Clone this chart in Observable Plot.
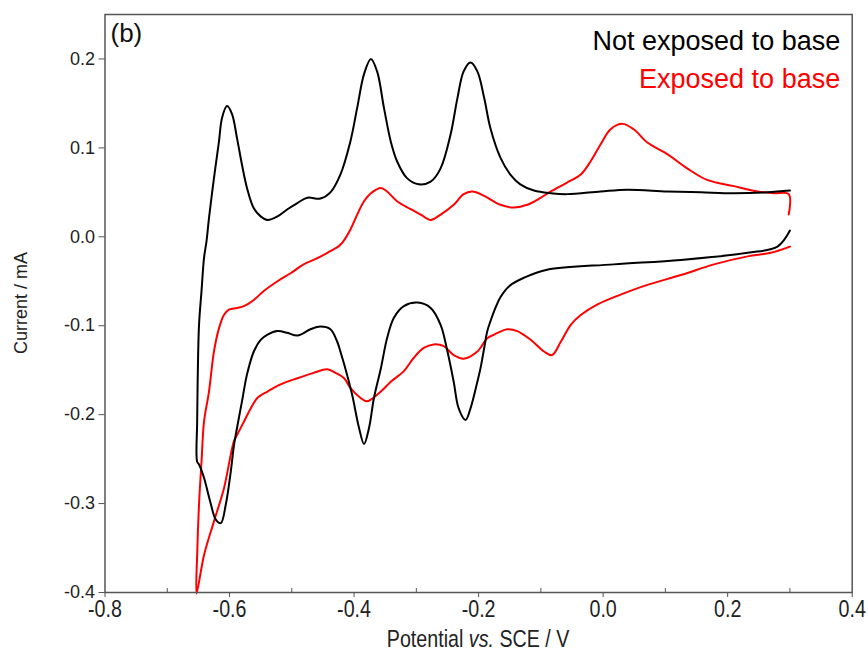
<!DOCTYPE html>
<html><head><meta charset="utf-8">
<script src="https://cdn.jsdelivr.net/npm/d3@7"></script>
<script src="https://cdn.jsdelivr.net/npm/@observablehq/plot@0.6"></script>
<style>body{margin:0;background:#fff;}</style>
</head><body><div id="chart"></div>
<script>
// Not exposed to base (black): cathodic sweep from 0.3 V, then anodic sweep back to 0.3 V
const blackX = [0.300,0.280,0.232,0.125,0.017,-0.090,-0.127,-0.150,-0.165,-0.173,-0.181,-0.186,-0.191,-0.197,-0.202,-0.213,-0.221,-0.232,-0.240,-0.250,-0.261,-0.277,-0.298,-0.320,-0.336,-0.347,-0.357,-0.368,-0.376,-0.384,-0.392,-0.403,-0.414,-0.422,-0.427,-0.438,-0.454,-0.470,-0.491,-0.507,-0.523,-0.539,-0.550,-0.561,-0.572,-0.580,-0.588,-0.593,-0.598,-0.606,-0.614,-0.622,-0.631,-0.641,-0.649,-0.652,
  -0.652,-0.651,-0.649,-0.645,-0.641,-0.637,-0.633,-0.625,-0.617,-0.612,-0.604,-0.596,-0.588,-0.580,-0.572,-0.561,-0.550,-0.539,-0.523,-0.507,-0.491,-0.475,-0.454,-0.438,-0.422,-0.406,-0.395,-0.384,-0.373,-0.363,-0.352,-0.341,-0.331,-0.315,-0.296,-0.277,-0.261,-0.245,-0.234,-0.224,-0.213,-0.202,-0.191,-0.181,-0.165,-0.149,-0.133,-0.111,-0.084,-0.058,-0.004,0.039,0.103,0.157,0.210,0.264,0.300];
const blackY = [0.007,-0.011,-0.018,-0.026,-0.031,-0.037,-0.046,-0.055,-0.068,-0.080,-0.095,-0.106,-0.125,-0.148,-0.163,-0.193,-0.206,-0.193,-0.163,-0.129,-0.099,-0.080,-0.074,-0.078,-0.091,-0.114,-0.148,-0.181,-0.215,-0.233,-0.215,-0.178,-0.148,-0.129,-0.118,-0.104,-0.101,-0.104,-0.111,-0.108,-0.106,-0.110,-0.116,-0.129,-0.155,-0.185,-0.215,-0.235,-0.264,-0.301,-0.322,-0.318,-0.298,-0.271,-0.256,-0.253,
  -0.208,-0.155,-0.099,-0.061,-0.024,-0.005,0.021,0.066,0.107,0.134,0.147,0.138,0.111,0.081,0.055,0.032,0.023,0.019,0.023,0.031,0.038,0.044,0.043,0.050,0.070,0.107,0.145,0.183,0.200,0.186,0.145,0.107,0.085,0.066,0.059,0.062,0.077,0.115,0.156,0.186,0.196,0.186,0.156,0.122,0.089,0.070,0.059,0.052,0.049,0.048,0.051,0.053,0.051,0.050,0.049,0.050,0.052];
// Exposed to base (red)
const redX = [0.300,0.269,0.232,0.178,0.125,0.071,0.028,-0.009,-0.036,-0.052,-0.068,-0.082,-0.095,-0.116,-0.138,-0.154,-0.175,-0.186,-0.202,-0.224,-0.240,-0.256,-0.272,-0.288,-0.304,-0.320,-0.341,-0.357,-0.379,-0.390,-0.406,-0.416,-0.430,-0.443,-0.465,-0.491,-0.518,-0.539,-0.555,-0.566,-0.577,-0.588,-0.593,-0.609,-0.625,-0.641,-0.653,
  -0.652,-0.649,-0.645,-0.641,-0.633,-0.625,-0.617,-0.609,-0.601,-0.588,-0.577,-0.561,-0.545,-0.523,-0.502,-0.481,-0.459,-0.443,-0.422,-0.406,-0.395,-0.384,-0.373,-0.357,-0.347,-0.331,-0.309,-0.293,-0.277,-0.261,-0.240,-0.224,-0.210,-0.191,-0.165,-0.143,-0.122,-0.100,-0.084,-0.058,-0.036,-0.020,-0.004,0.012,0.031,0.049,0.071,0.103,0.135,0.167,0.210,0.248,0.274,0.298,0.298];
const redY = [-0.011,-0.018,-0.022,-0.031,-0.043,-0.054,-0.065,-0.076,-0.088,-0.099,-0.118,-0.133,-0.129,-0.116,-0.106,-0.104,-0.110,-0.114,-0.129,-0.137,-0.133,-0.123,-0.121,-0.125,-0.136,-0.151,-0.163,-0.174,-0.185,-0.181,-0.170,-0.159,-0.153,-0.149,-0.153,-0.159,-0.166,-0.174,-0.181,-0.193,-0.208,-0.223,-0.230,-0.283,-0.320,-0.358,-0.401,
  -0.358,-0.301,-0.253,-0.208,-0.174,-0.129,-0.103,-0.088,-0.082,-0.080,-0.078,-0.071,-0.061,-0.050,-0.041,-0.031,-0.024,-0.018,-0.009,0.008,0.025,0.040,0.049,0.055,0.051,0.040,0.031,0.025,0.019,0.025,0.036,0.048,0.051,0.046,0.036,0.033,0.036,0.044,0.051,0.061,0.070,0.085,0.104,0.121,0.127,0.121,0.106,0.093,0.077,0.064,0.057,0.051,0.049,0.048,0.025];

const xTicks = [-0.8,-0.6,-0.4,-0.2,0.0,0.2,0.4];
const xMinorTicks = [-0.7,-0.5,-0.3,-0.1,0.1,0.3];
const yTicks = [-0.4,-0.3,-0.2,-0.1,0.0,0.1,0.2];
const seriesNames = ["Not exposed to base","Exposed to base"];
const seriesColors = ["#000000","#ff0000"];
const panelLabel = "(b)";
const xLabelParts = ["Potential ","vs."," SCE / V"];
const yLabel = "Current / mA";

const black = blackX.map((x,i)=>({x, y: blackY[i]}));
const red = redX.map((x,i)=>({x, y: redY[i]}));

const sans = "'Liberation Sans', Arial, sans-serif";

const plot = Plot.plot({
  width: 868, height: 654,
  marginLeft: 104.5, marginRight: 16.3, marginTop: 14, marginBottom: 62,
  style: {fontFamily: sans, background: "#fff", overflow: "visible"},
  x: {domain: [-0.8, 0.4]},
  y: {domain: [-0.4, 0.25]},
  marks: [
    Plot.line(red, {x:"x", y:"y", stroke: seriesColors[1], strokeWidth: 2, curve: "catmull-rom"}),
    Plot.line(black, {x:"x", y:"y", stroke: seriesColors[0], strokeWidth: 2, curve: "catmull-rom"}),
    Plot.frame({stroke:"#555", strokeWidth: 1.5}),
    Plot.axisY(yTicks, {tickSize: 6, tickPadding: 4, tickFormat: d => d.toFixed(1), fontSize: 18, label: null, stroke: "#555", fill: "#222"}),
    Plot.axisX(xTicks, {tickSize: 5, tickPadding: 2, tickFormat: d => d.toFixed(1), fontSize: 24, label: null, stroke: "#555", fill: "#222"}),
    Plot.axisX(xMinorTicks, {tickSize: -4, text: null, label: null, stroke: "#555"}),
    Plot.text([panelLabel], {frameAnchor: "top-left", textAnchor: "start", lineAnchor: "top", dx: 5.5, dy: 9, fontSize: 26, fill: "#111"}),
    Plot.text([seriesNames[0]], {frameAnchor: "top-right", textAnchor: "end", lineAnchor: "top", dx: -12, dy: 16, fontSize: 27, fill: seriesColors[0]}),
    Plot.text([seriesNames[1]], {frameAnchor: "top-right", textAnchor: "end", lineAnchor: "top", dx: -12, dy: 54, fontSize: 27, fill: seriesColors[1]})
  ]
});

document.getElementById("chart").appendChild(plot);

const svg = d3.select(plot);
const xs = plot.scale("x");
const ys = plot.scale("y");
const xMid = (xs.range[0] + xs.range[1]) / 2;
const yMid = (ys.range[0] + ys.range[1]) / 2;

// condensed look of the bottom-axis tick labels, as in the reference
svg.selectAll('g[aria-label="x-axis tick label"] text').each(function() {
  const t = this.getAttribute("transform") || "";
  this.setAttribute("transform", t + " scale(0.82,1)");
});

const xl = svg.append("text")
  .attr("transform", `translate(${xMid},647) scale(0.82,1)`)
  .attr("text-anchor", "middle")
  .attr("font-family", sans).attr("font-size", 24).attr("fill", "#222");
xLabelParts.forEach((t, i) => {
  const ts = xl.append("tspan").text(t);
  if (i === 1) ts.attr("font-style", "italic");
});

svg.append("text")
  .attr("transform", `translate(27,${yMid}) rotate(-90)`)
  .attr("text-anchor", "middle")
  .attr("font-family", sans).attr("font-size", 18).attr("fill", "#222")
  .text(yLabel);
</script>
</body></html>
